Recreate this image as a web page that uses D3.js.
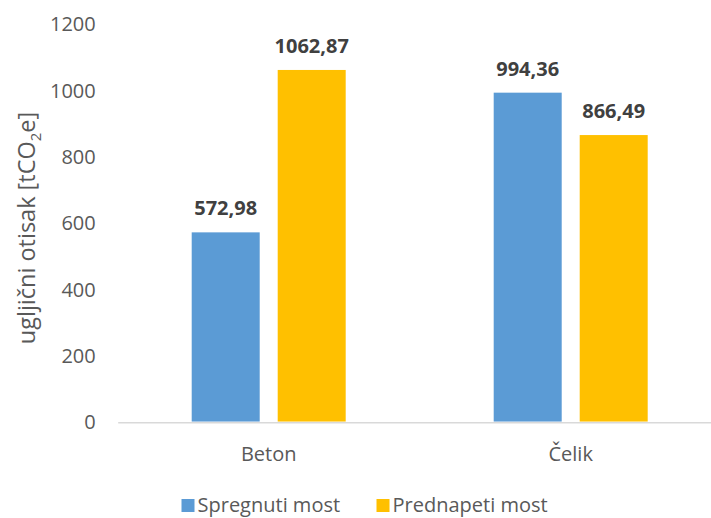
<!DOCTYPE html>
<html>
<head>
<meta charset="utf-8">
<script src="https://cdn.jsdelivr.net/npm/d3@7"></script>
<style>
  body { margin: 0; background: #fff; }
  text { font-family: "Open Sans", "Noto Sans", sans-serif; }
</style>
</head>
<body>
<div id="chart"></div>
<script>
const width = 711
const height = 518
const margin = { left: 117.7, right: -10.7, top: 24.5, bottom: 95.7 }

// data
const categories = ["Beton", "Čelik"]
const seriesNames = ["Spregnuti most", "Prednapeti most"]
const spregnuti = [572.98, 994.36]
const prednapeti = [1062.87, 866.49]
const yTicks = [0, 200, 400, 600, 800, 1000, 1200]
const colors = ["#5B9BD5", "#FFC000"]

const seriesValues = [spregnuti, prednapeti]
const data = []
categories.forEach((c, i) => {
    seriesNames.forEach((s, j) => {
        data.push({ cat: c, series: s, idx: j, value: seriesValues[j][i] })
    })
})

const svg = d3.select("#chart").append("svg")
    .attr("width", width).attr("height", height)

const x = d3.scaleBand().domain(categories)
    .range([margin.left, width - margin.right])
const y = d3.scaleLinear().domain([0, 1200])
    .range([height - margin.bottom, margin.top])

// bars: width 68, gap 18 between the pair
const barW = 68, innerGap = 18
const groupOffset = (x.bandwidth() - (barW * 2 + innerGap)) / 2
const barX = d => x(d.cat) + groupOffset + d.idx * (barW + innerGap)

// y axis
const yAxis = svg.append("g")
    .attr("transform", `translate(${margin.left},0)`)
    .call(d3.axisLeft(y).tickValues(yTicks).tickFormat(d3.format("d")).tickSize(0).tickPadding(22))
yAxis.select(".domain").remove()
yAxis.selectAll("text")
    .attr("font-size", 20)
    .attr("fill", "#595959")
    .style("font-family", '"Open Sans", sans-serif')

// x axis
const xAxis = svg.append("g")
    .attr("transform", `translate(0,${y(0)})`)
    .call(d3.axisBottom(x).tickSize(0).tickPadding(25))
xAxis.select(".domain")
    .attr("stroke", "#D9D9D9").attr("stroke-width", 1.5)
xAxis.selectAll("text")
    .attr("font-size", 20)
    .attr("fill", "#595959")
    .style("font-family", '"Open Sans", sans-serif')

svg.selectAll("rect.bar")
    .data(data)
    .join("rect")
    .attr("class", "bar")
    .attr("x", barX)
    .attr("y", d => y(d.value))
    .attr("width", barW)
    .attr("height", d => y(0) - y(d.value) - 0.75)
    .attr("fill", d => colors[d.idx])

svg.selectAll("text.lbl")
    .data(data)
    .join("text")
    .attr("class", "lbl")
    .attr("x", d => barX(d) + barW / 2)
    .attr("y", d => y(d.value) - 17)
    .attr("text-anchor", "middle")
    .attr("font-size", 20)
    .attr("font-weight", "bold")
    .attr("fill", "#404040")
    .text(d => d3.format(".2f")(d.value).replace(".", ","))

// y title
const yTitle = svg.append("text")
    .attr("transform", `translate(35,228) rotate(-90)`)
    .attr("text-anchor", "middle")
    .attr("font-size", 23.5)
    .attr("fill", "#595959")
yTitle.append("tspan").text("ugljični otisak [tCO")
yTitle.append("tspan").text("2").attr("font-size", 15).attr("dy", 6)
yTitle.append("tspan").text("e]").attr("dy", -6)

// legend
const legend = svg.selectAll("g.leg")
    .data(seriesNames)
    .join("g")
    .attr("class", "leg")
    .attr("transform", (d, i) => `translate(${181.5 + i * 195},499)`)
legend.append("rect")
    .attr("width", 13).attr("height", 13)
    .attr("fill", (d, i) => colors[i])
legend.append("text")
    .attr("x", 16).attr("y", 13)
    .attr("font-size", 20)
    .attr("fill", "#595959")
    .text(d => d)
</script>
</body>
</html>
